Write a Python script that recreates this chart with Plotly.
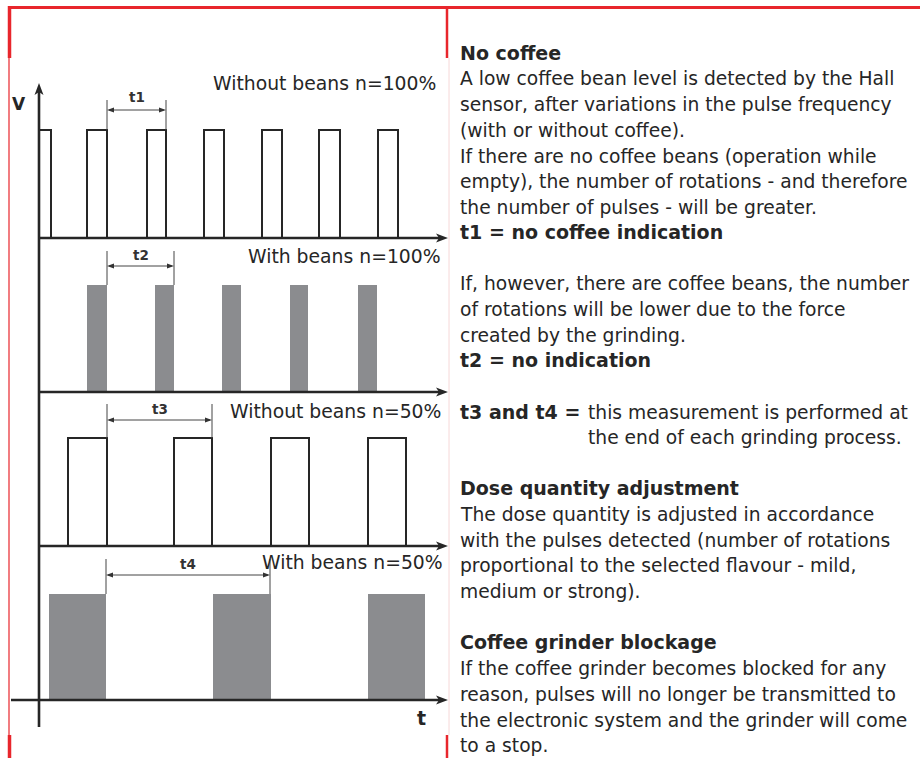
import plotly.graph_objects as go

# ---------------- data (time units measured from the V axis) ----------------
panel_titles = ["Without beans n=100%", "With beans n=100%",
                "Without beans n=50%", "With beans n=50%"]
pulses_p1_start = [0, 48, 108, 165, 223, 280, 339]
pulses_p1_end = [12, 68, 127, 185, 243, 301, 359]
pulses_p2_start = [48, 116, 183, 251, 319]
pulses_p2_end = [68, 135, 202, 269, 338]
pulses_p3_start = [29, 135, 232, 329]
pulses_p3_end = [68, 173, 270, 367]
pulses_p4_start = [10, 174, 329]
pulses_p4_end = [67, 232, 386]
interval_labels = ["t1", "t2", "t3", "t4"]
interval_from = [68, 68, 68, 67]
interval_to = [127, 135, 173, 231]
filled = [False, True, False, True]

body_lines = [
    ("No coffee", True),
    ("A low coffee bean level is detected by the Hall", False),
    ("sensor, after variations in the pulse frequency", False),
    ("(with or without coffee).", False),
    ("If there are no coffee beans (operation while", False),
    ("empty), the number of rotations - and therefore", False),
    ("the number of pulses - will be greater.", False),
    ("t1 = no coffee indication", True),
    ("If, however, there are coffee beans, the number", False),
    ("of rotations will be lower due to the force", False),
    ("created by the grinding.", False),
    ("t2 = no indication", True),
    ("t3 and t4 =", True),
    ("Dose quantity adjustment", True),
    ("The dose quantity is adjusted in accordance", False),
    ("with the pulses detected (number of rotations", False),
    ("proportional to the selected flavour - mild,", False),
    ("medium or strong).", False),
    ("Coffee grinder blockage", True),
    ("If the coffee grinder becomes blocked for any", False),
    ("reason, pulses will no longer be transmitted to", False),
    ("the electronic system and the grinder will come", False),
    ("to a stop.", False),
]
body_y = [53, 78, 104, 130, 156, 181, 207, 232, 283, 309, 335, 360, 412,
          488, 514, 540, 565, 591, 642, 668, 694, 720, 745]
t34_text = ["this measurement is performed at", "the end of each grinding process."]
t34_y = [412, 437]

# ---------------- layout constants (pixels) ----------------
T0 = 39                     # x of V axis
baselines = [238, 392, 546, 700]
highs = [130, 285, 438, 594]
dim_y = [110, 266, 420, 575]
ext_top = [100, 251, 404, 559]
lab_y = [97, 255, 409, 564]
title_y = [83, 256, 411, 562]
title_x = [438, 443, 443, 445]
AX_END = 448
INK = "#262626"
GRAY = "#8b8c8f"
RED = "#e8262c"
FONT = "DejaVu Sans"

starts = [pulses_p1_start, pulses_p2_start, pulses_p3_start, pulses_p4_start]
ends = [pulses_p1_end, pulses_p2_end, pulses_p3_end, pulses_p4_end]

fig = go.Figure()
shapes = []
ann = []

# pulses
for i in range(4):
    xs, ys = [], []
    for s, e in zip(starts[i], ends[i]):
        xs += [T0 + s, T0 + s, T0 + e, T0 + e, T0 + s, None]
        ys += [baselines[i], highs[i], highs[i], baselines[i], baselines[i], None]
    if filled[i]:
        fig.add_trace(go.Scatter(x=xs, y=ys, mode="lines", fill="toself",
                                 fillcolor=GRAY, line=dict(width=0, color=GRAY),
                                 hoverinfo="skip", showlegend=False))
    else:
        fig.add_trace(go.Scatter(x=xs, y=ys, mode="lines",
                                 line=dict(width=2, color=INK),
                                 hoverinfo="skip", showlegend=False))


def arrow_right(x_tip, y, L=12, W=4.5, notch=3):
    return dict(type="path", path=f"M{x_tip},{y} L{x_tip-L},{y-W} L{x_tip-L+notch},{y} L{x_tip-L},{y+W} Z",
                fillcolor=INK, line=dict(width=0), layer="above")


# baselines with arrows
for i in range(4):
    x0 = 11 if i == 3 else T0
    shapes.append(dict(type="line", x0=x0, x1=AX_END - 6, y0=baselines[i], y1=baselines[i],
                       line=dict(color=INK, width=2.6)))
    shapes.append(arrow_right(AX_END, baselines[i]))

# V axis
shapes.append(dict(type="line", x0=T0, x1=T0, y0=727, y1=90, line=dict(color=INK, width=2.6)))
shapes.append(dict(type="path", path=f"M{T0},83 L{T0-4.5},95 L{T0},92 L{T0+4.5},95 Z",
                   fillcolor=INK, line=dict(width=0)))

# interval dimensions
for i in range(4):
    a = T0 + interval_from[i]
    b = T0 + interval_to[i]
    for xx in (a, b):
        shapes.append(dict(type="line", x0=xx, x1=xx, y0=ext_top[i], y1=highs[i],
                           line=dict(color="#444444", width=1)))
    shapes.append(dict(type="line", x0=a + 2, x1=b - 2, y0=dim_y[i], y1=dim_y[i],
                       line=dict(color="#444444", width=1)))
    shapes.append(dict(type="path", path=f"M{b},{dim_y[i]} L{b-7},{dim_y[i]-2.5} L{b-7},{dim_y[i]+2.5} Z",
                       fillcolor="#333333", line=dict(width=0)))
    shapes.append(dict(type="path", path=f"M{a},{dim_y[i]} L{a+7},{dim_y[i]-2.5} L{a+7},{dim_y[i]+2.5} Z",
                       fillcolor="#333333", line=dict(width=0)))
    ann.append(dict(x=(a + b) / 2, y=lab_y[i], text=f"<b>{interval_labels[i]}</b>",
                    showarrow=False, xanchor="center", yanchor="middle",
                    font=dict(family=FONT, size=13.5, color="#333333")))
    ann.append(dict(x=title_x[i], y=title_y[i], text=panel_titles[i], showarrow=False,
                    xanchor="right", yanchor="middle",
                    font=dict(family=FONT, size=18.8, color=INK)))

# axis labels
ann.append(dict(x=19, y=104, text="<b>V</b>", showarrow=False, xanchor="center", yanchor="middle",
                font=dict(family=FONT, size=17, color=INK)))
ann.append(dict(x=421, y=718, text="<b>t</b>", showarrow=False, xanchor="center", yanchor="middle",
                font=dict(family=FONT, size=19, color=INK)))

# red frame
shapes += [
    dict(type="line", x0=8, x1=920, y0=7.5, y1=7.5, line=dict(color=RED, width=3)),
    dict(type="line", x0=9.5, x1=9.5, y0=6, y1=58, line=dict(color=RED, width=3.5)),
    dict(type="line", x0=9, x1=9, y0=58, y1=735, line=dict(color=RED, width=1.2)),
    dict(type="line", x0=9.5, x1=9.5, y0=735, y1=758, line=dict(color=RED, width=3.5)),
    dict(type="line", x0=447, x1=447, y0=6, y1=58, line=dict(color=RED, width=2.5)),
    dict(type="line", x0=449, x1=449, y0=58, y1=735, line=dict(color="#f6d8d8", width=1)),
    dict(type="line", x0=447, x1=447, y0=735, y1=758, line=dict(color=RED, width=2.5)),
]

# body text
for (txt, bold), yy in zip(body_lines, body_y):
    ann.append(dict(x=458, y=yy, text=f"<b>{txt}</b>" if bold else txt, showarrow=False,
                    xanchor="left", yanchor="middle",
                    font=dict(family=FONT, size=19 if bold else 18.7, color=INK)))
for txt, yy in zip(t34_text, t34_y):
    ann.append(dict(x=586, y=yy, text=txt, showarrow=False, xanchor="left", yanchor="middle",
                    font=dict(family=FONT, size=18.7, color=INK)))

fig.update_layout(
    width=920, height=758, margin=dict(l=0, r=0, t=0, b=0),
    paper_bgcolor="white", plot_bgcolor="white",
    xaxis=dict(range=[0, 920], visible=False, fixedrange=True),
    yaxis=dict(range=[758, 0], visible=False, fixedrange=True),
    shapes=shapes, annotations=ann, showlegend=False,
)
fig.write_html("out.html", config={"displayModeBar": False},
               post_script="document.body.style.margin='0';document.body.style.overflow='hidden';")
